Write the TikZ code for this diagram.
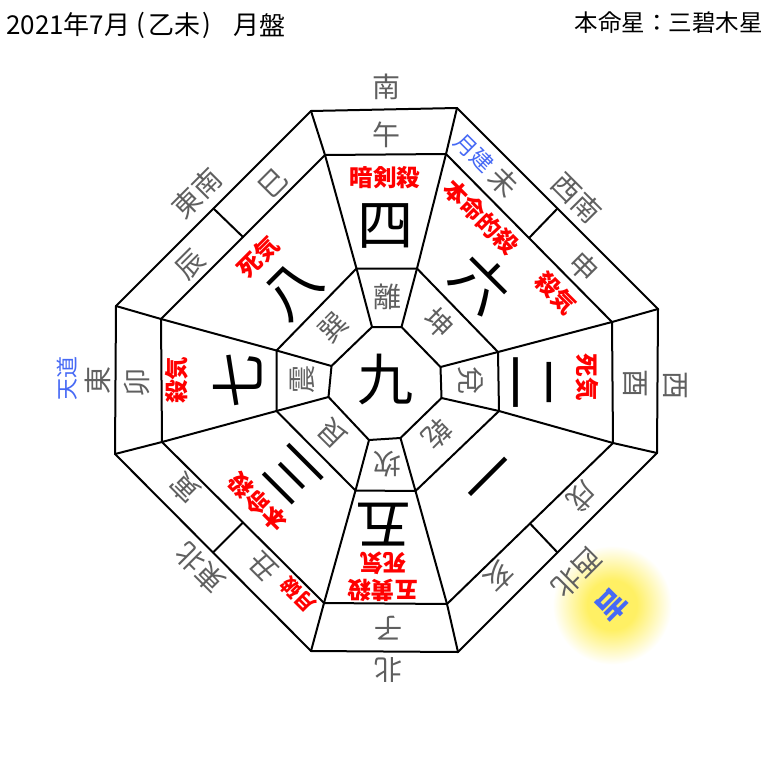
\documentclass[tikz,border=0pt]{standalone}
\usepackage{fontspec}
\setmainfont{Noto Sans CJK JP}
\usetikzlibrary{calc}
\definecolor{lblgray}{RGB}{95,95,95}
\definecolor{redtxt}{RGB}{255,0,0}
\definecolor{bluetxt}{RGB}{70,105,245}
\definecolor{glowyel}{RGB}{255,240,100}
\pgfdeclareradialshading{glow}{\pgfpoint{0cm}{0cm}}{color(0bp)=(glowyel); color(10bp)=(glowyel); color(24bp)=(white); color(50bp)=(white)}
\tikzset{
  ln/.style={line width=2pt, line join=round, line cap=round},
  lbl/.style={text=lblgray, font=\fontsize{28}{28}\selectfont, inner sep=0pt},
  tri/.style={text=lblgray, font=\fontsize{28}{28}\selectfont, inner sep=0pt},
  starnum/.style={text=black, font=\fontsize{56}{56}\selectfont, inner sep=0pt},
  redlbl/.style={text=redtxt, font=\bfseries\fontsize{23.5}{27}\selectfont, inner sep=0pt, align=center},
  smallred/.style={text=redtxt, font=\bfseries\fontsize{20}{20}\selectfont, inner sep=0pt},
  bluelbl/.style={text=bluetxt, font=\fontsize{22}{22}\selectfont, inner sep=0pt},
  hdr/.style={text=black, font=\fontsize{26}{26}\selectfont, inner sep=0pt},
}
\begin{document}
\begin{tikzpicture}[x=1pt,y=-1pt]
\useasboundingbox (0,0) rectangle (768,768);
\fill[white] (0,0) rectangle (768,768);
% glow
\coordinate (g) at (612,605);
\shade[shading=glow] (g) circle (62);
% vertices
\coordinate (O1) at (311,111); \coordinate (O2) at (457,108);
\coordinate (O3) at (658,309); \coordinate (O4) at (657,453);
\coordinate (O5) at (458,652); \coordinate (O6) at (311,651);
\coordinate (O7) at (115,454); \coordinate (O8) at (116,306);
\coordinate (M1) at (325,155); \coordinate (M2) at (446,154);
\coordinate (M3) at (612,322); \coordinate (M4) at (613,443);
\coordinate (M5) at (447,604); \coordinate (M6) at (324,603);
\coordinate (M7) at (162,442); \coordinate (M8) at (161,319);
\coordinate (I1) at (356.5,268.5); \coordinate (I2) at (417,268.5);
\coordinate (I3) at (498,352); \coordinate (I4) at (499,411);
\coordinate (I5) at (415.5,491); \coordinate (I6) at (355.5,490.5);
\coordinate (I7) at (276.5,411); \coordinate (I8) at (276.5,350.5);
\coordinate (C1) at (372,327); \coordinate (C2) at (401.5,327);
\coordinate (C3) at (440.5,367); \coordinate (C4) at (441.5,398);
\coordinate (C5) at (400.5,438); \coordinate (C6) at (369,440);
\coordinate (C7) at (328.5,397); \coordinate (C8) at (331.5,366);
% rings
\draw[ln] (O1)--(O2)--(O3)--(O4)--(O5)--(O6)--(O7)--(O8)--cycle;
\draw[ln] (M1)--(M2)--(M3)--(M4)--(M5)--(M6)--(M7)--(M8)--cycle;
\draw[ln] (I1)--(I2)--(I3)--(I4)--(I5)--(I6)--(I7)--(I8)--cycle;
\draw[ln] (C1)--(C2)--(C3)--(C4)--(C5)--(C6)--(C7)--(C8)--cycle;
% radial lines
\foreach \k in {1,...,8}{\draw[ln] (C\k)--(I\k)--(M\k)--(O\k);}
% dividers in diagonal bands
\draw[ln] ($(O8)!0.5!(O1)$) -- ($(M8)!0.5!(M1)$);
\draw[ln] ($(O2)!0.5!(O3)$) -- ($(M2)!0.5!(M3)$);
\draw[ln] ($(O4)!0.5!(O5)$) -- ($(M4)!0.5!(M5)$);
\draw[ln] ($(O6)!0.5!(O7)$) -- ($(M6)!0.5!(M7)$);
% header
\node[hdr,anchor=west] (h1) at (6,25) {2021};
\node[hdr] (h2) at (76,25) {年};
\node[hdr] (h3) at (97,25) {7};
\node[hdr] (h4) at (117,25) {月};
\node[hdr] (h5) at (141,25) {(};
\node[hdr] (h6) at (161,25) {乙};
\node[hdr] (h7) at (187,25) {未};
\node[hdr] (h8) at (207,25) {)};
\node[hdr] (h9) at (246,25) {月};
\node[hdr] (h10) at (272,25) {盤};
\node[hdr,font=\fontsize{23.5}{23.5}\selectfont,anchor=east] (h11) at (763,23) {本命星：三碧木星};
% directions outside
\node[lbl] (dS) at (386,87) {南};
\node[lbl,rotate=-45] (dSW) at (577,198) {西南};
\node[lbl,rotate=-90] (dW) at (675,385) {西};
\node[lbl,rotate=-135] (dNW) at (577,573) {西北};
\node[lbl,rotate=180] (dN) at (388,670) {北};
\node[lbl,rotate=135] (dNE) at (200,568) {東北};
\node[lbl,rotate=90] (dE) at (98,380) {東};
\node[lbl,rotate=45] (dSE) at (197,193) {東南};
% zodiac
\node[lbl] (zU) at (386,135) {午};
\node[lbl,rotate=-45] (zWe) at (504,182) {未};
\node[lbl,rotate=-45] (zSh) at (584,267) {申};
\node[lbl,rotate=-90] (zTo) at (635,383) {酉};
\node[lbl,rotate=-135] (zIn) at (582,497) {戌};
\node[lbl,rotate=-135] (zI) at (499,577) {亥};
\node[lbl,rotate=180] (zNe) at (388,628) {子};
\node[lbl,rotate=135] (zUs) at (263,567) {丑};
\node[lbl,rotate=135] (zTr) at (185,488) {寅};
\node[lbl,rotate=90] (zU2) at (137,382) {卯};
\node[lbl,rotate=45] (zTa) at (190,265) {辰};
\node[lbl,rotate=45] (zMi) at (273,183) {巳};
% trigrams
\node[tri] (tLi) at (387,297) {離};
\node[tri,rotate=-45] (tKun) at (439,323) {坤};
\node[tri,rotate=-90] (tDa) at (471,380) {兌};
\node[tri,rotate=-135] (tQi) at (437,434) {乾};
\node[tri,rotate=180] (tKan) at (387,464) {坎};
\node[tri,rotate=135] (tGe) at (333,434) {艮};
\node[tri,rotate=90] (tZh) at (302,379) {震};
\node[tri,rotate=45] (tXu) at (333,327) {巽};
% star numbers
\node[starnum] (s9) at (385,380) {九};
\node[starnum] (s4) at (385,226) {四};
\node[starnum,rotate=-45] (s6) at (481,283) {六};
\node[starnum,rotate=-90] (s2) at (532,382) {二};
\node[starnum,rotate=-135] (s1) at (481,470) {一};
\node[starnum,rotate=180] (s5) at (383,525) {五};
\node[starnum,rotate=135] (s3) at (292,475) {三};
\node[starnum,rotate=90] (s7) at (238,380) {七};
\node[starnum,rotate=45] (s8) at (293,290) {八};
% red labels
\node[redlbl] (rS) at (385,178) {暗剣殺};
\node[redlbl,rotate=-45] (rNE1) at (481,217) {本命的殺};
\node[redlbl,rotate=-45] (rNE2) at (556,293) {殺気};
\node[redlbl,rotate=-90] (rE) at (587,377) {死気};
\node[redlbl,rotate=180] (rN) at (383,577) {五黄殺\\死気};
\node[redlbl,rotate=135] (rSW) at (258,502) {本命殺};
\node[smallred,rotate=135] (rSW2) at (298,595) {月破};
\node[redlbl,rotate=90] (rW) at (177,380) {殺気};
\node[redlbl,rotate=45] (rNW) at (258,257) {死気};
% blue labels
\node[bluelbl,rotate=-45] (bNE) at (474,153) {月建};
\node[bluelbl,rotate=90] (bE) at (67,378) {天道};
\node[bluelbl,rotate=-135,font=\bfseries\fontsize{30}{30}\selectfont] (bK) at (g) {吉};
\end{tikzpicture}
\end{document}
